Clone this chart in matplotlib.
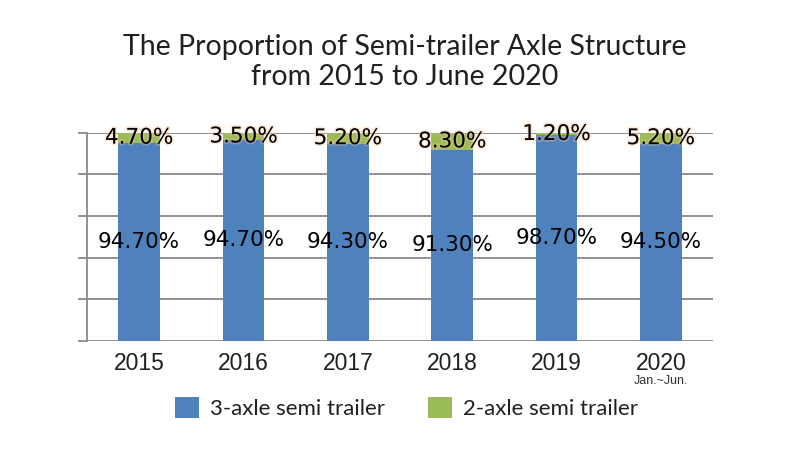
import numpy as np
import matplotlib
matplotlib.use('Agg')
import matplotlib.pyplot as plt
import matplotlib.patheffects as pe

# data (percent)
years = ['2015', '2016', '2017', '2018', '2019', '2020']
axle3 = [94.7, 94.7, 94.3, 91.3, 98.7, 94.5]
axle2 = [4.7, 3.5, 5.2, 8.3, 1.2, 5.2]
series_names = ['3-axle semi trailer', '2-axle semi trailer']
title = 'The Proportion of Semi-trailer Axle Structure\nfrom 2015 to June 2020'
note_2020 = 'Jan.~Jun.'

blue = '#4f81bd'
green = '#9bbb59'
grey = '#888888'
dark = '#231f20'

a3 = np.array(axle3)
a2 = np.array(axle2)
total = a3 + a2
# chart is drawn as 100% stacked
s3 = a3 / total * 100
s2 = a2 / total * 100

fig = plt.figure(figsize=(8, 4.57), dpi=100)
ax = fig.add_axes([0.10875, 0.2545, 0.7825, 0.4551])

x = np.arange(len(years))
b3 = ax.bar(x, s3, width=0.4, color=blue, zorder=3, label=series_names[0])
b2 = ax.bar(x, s2, width=0.4, bottom=s3, color=green, zorder=3, label=series_names[1])

lab_font = dict(family='DejaVu Sans', fontsize=15.5, color='black')
glow = [pe.withStroke(linewidth=2.5, foreground='#f9c89a', alpha=0.35)]
for i in range(len(years)):
    ax.text(x[i], s3[i] / 2, '%.2f%%' % axle3[i], ha='center', va='center',
            zorder=5, **lab_font)
    ax.text(x[i], s3[i] + s2[i] / 2, '%.2f%%' % axle2[i], ha='center', va='center',
            zorder=5, path_effects=glow, **lab_font)

ax.set_xlim(-0.5, len(years) - 0.5)
ax.set_ylim(0, 100)
ax.set_yticks(np.arange(0, 101, 20))
ax.set_yticklabels([])
ax.yaxis.grid(True, color=grey, linewidth=1.3)
ax.set_axisbelow(True)
ax.tick_params(axis='y', direction='out', length=6.5, width=1.3, color=grey)
ax.tick_params(axis='x', length=0, pad=8)
ax.set_xticks(x)
ax.set_xticklabels(years, family='Liberation Sans', fontsize=16.5, color=dark)
for s in ['top', 'right', 'bottom']:
    ax.spines[s].set_visible(False)
ax.spines['left'].set_color(grey)
ax.spines['left'].set_linewidth(1.3)

ax.text(x[-1], -0.195, note_2020, transform=ax.get_xaxis_transform(), ha='center',
        va='center', family='Liberation Sans', fontsize=9, color='#333333')

fig.text(0.506, 0.925, title, ha='center', va='top', family='Lato', fontsize=20.5,
         color=dark, linespacing=1.2)

fig.legend(handles=[b3, b2], loc='center', bbox_to_anchor=(0.508, 0.107), ncol=2,
           frameon=False, prop=dict(family='Lato', size=16), handlelength=1.1,
           handleheight=1.1, handletextpad=0.5, columnspacing=1.9, labelcolor=dark)

fig.savefig('out.png', dpi=100)
